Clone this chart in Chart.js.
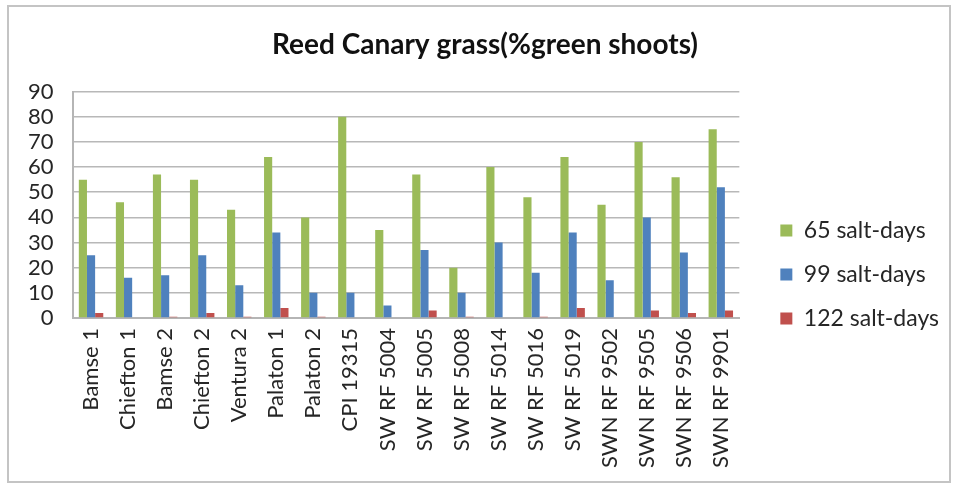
<!DOCTYPE html>
<html>
<head>
<meta charset="utf-8">
<script src="https://cdn.jsdelivr.net/npm/chart.js@4"></script>
<style>
  body { margin: 0; background: #fff; }
  #box {
    position: absolute; left: 7px; top: 5px;
    width: 944px; height: 478px;
    border: 2px solid #c4c4c4; box-sizing: border-box;
  }
</style>
</head>
<body>
<div id="box"><canvas id="grafico" width="940" height="474"></canvas></div>
<script>
// dados
const cultivares = ['Bamse 1', 'Chiefton 1', 'Bamse 2', 'Chiefton 2', 'Ventura 2', 'Palaton 1',
  'Palaton 2', 'CPI 19315', 'SW RF 5004', 'SW RF 5005', 'SW RF 5008', 'SW RF 5014',
  'SW RF 5016', 'SW RF 5019', 'SWN RF 9502', 'SWN RF 9505', 'SWN RF 9506', 'SWN RF 9901'];
const dias65 = [55, 46, 57, 55, 43, 64, 40, 80, 35, 57, 20, 60, 48, 64, 45, 70, 56, 75];
const dias99 = [25, 16, 17, 25, 13, 34, 10, 10, 5, 27, 10, 30, 18, 34, 15, 40, 26, 52];
const dias122 = [2, 0, 0.5, 2, 0.5, 4, 0.5, 0, 0, 3, 0.5, 0, 0.5, 4, 0, 3, 2, 3];

const fonte = 'Lato, "Liberation Sans", sans-serif';
Chart.defaults.font.family = fonte;
Chart.defaults.color = '#262626';

// desloca legenda e título para onde o Excel os desenha
const ajustarCaixas = {
  id: 'ajustarCaixas',
  afterLayout(chart) {
    const lg = chart.legend;
    const dx = 20, dy = 191;
    lg.left += dx; lg.right += dx;
    lg.top += dy; lg.bottom += dy;
    const tt = chart.titleBlock;
    tt.left += 16; tt.right += 16;
  }
};

const ctx = document.getElementById('grafico').getContext('2d');
const myChart = new Chart(ctx, {
  type: 'bar',
  data: {
    labels: cultivares,
    datasets: [
      { label: '65 salt-days', data: dias65, backgroundColor: '#9BBB59' },
      { label: '99 salt-days', data: dias99, backgroundColor: '#4F81BD' },
      { label: '122 salt-days', data: dias122, backgroundColor: '#C0504D' }
    ]
  },
  options: {
    responsive: false,
    animation: false,
    layout: { padding: { left: 0, right: 20, bottom: 3 } },
    datasets: { bar: { categoryPercentage: 0.66, barPercentage: 1.0 } },
    plugins: {
      title: {
        display: true,
        text: 'Reed Canary grass(%green shoots)',
        font: { size: 28, weight: 'bold' },
        color: '#111',
        padding: { top: 21, bottom: 30 }
      },
      legend: {
        position: 'right',
        align: 'start',
        labels: { boxWidth: 12, boxHeight: 12, padding: 21, font: { size: 23 } }
      },
      tooltip: { enabled: false }
    },
    scales: {
      x: {
        grid: { display: false, drawTicks: false },
        border: { display: true, color: '#b5b5b5', width: 2 },
        ticks: { minRotation: 90, maxRotation: 90, autoSkip: false, padding: 10, font: { size: 22 } }
      },
      y: {
        min: 0,
        max: 90,
        ticks: { stepSize: 10, autoSkip: false, padding: 19, font: { size: 22 } },
        grid: { color: '#b8b8b8', lineWidth: 1.6, drawTicks: false },
        border: { display: true, color: '#b5b5b5', width: 2 }
      }
    }
  },
  plugins: [ajustarCaixas]
});
</script>
</body>
</html>
